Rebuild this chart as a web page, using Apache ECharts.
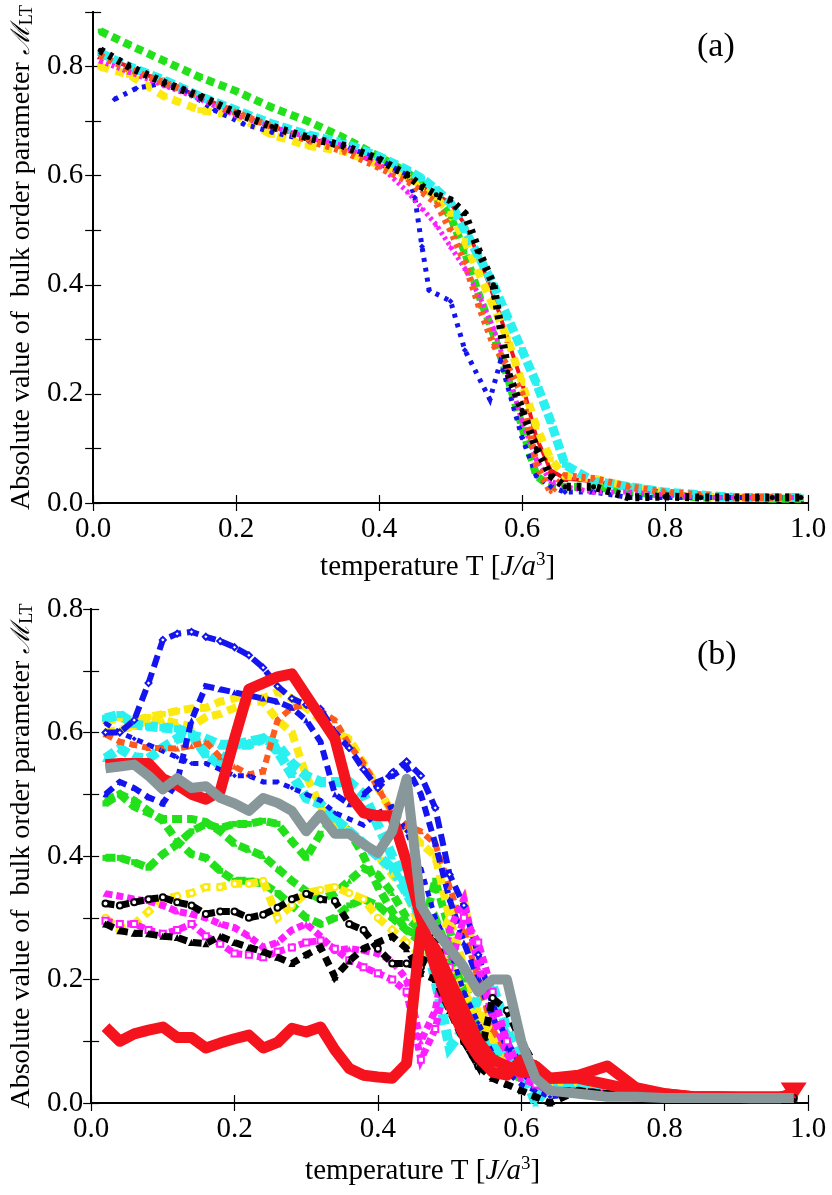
<!DOCTYPE html>
<html><head><meta charset="utf-8">
<script src="https://cdn.jsdelivr.net/npm/echarts@6.0.0/dist/echarts.min.js"></script>
<style>html,body{margin:0;padding:0;background:#fff}#c{width:832px;height:1195px}</style>
</head><body><div id="c"></div>
<script>
const FONT = "'Liberation Serif','Times New Roman',serif";

// ---------- Panel (a) ----------
const tA = [0.01,0.05,0.10,0.15,0.20,0.25,0.30,0.35,0.40,0.44,0.46,0.48,0.50,0.52,0.54,0.56,0.58,0.60,0.62,0.64,0.66,0.70,0.75,0.80,0.85,0.90,0.95,0.99];
const aRed     = [.82,.80,.77,.745,.715,.69,.67,.65,.62,.60,.58,.565,.55,.51,.45,.38,.30,.22,.12,.06,.045,.04,.03,.02,.012,.01,.01,.008];
const aGreen   = [.865,.84,.81,.78,.755,.725,.70,.67,.635,.605,.585,.56,.525,.46,.38,.31,.23,.14,.05,.03,.03,.03,.02,.015,.01,.01,.008,.008];
const aCyan    = [.825,.80,.775,.745,.72,.695,.675,.66,.635,.61,.595,.575,.55,.50,.45,.40,.34,.28,.22,.15,.07,.04,.03,.02,.015,.01,.01,.01];
const aYellow  = [.80,.785,.745,.72,.71,.675,.655,.645,.62,.60,.58,.56,.53,.48,.42,.36,.30,.22,.14,.08,.05,.045,.03,.02,.012,.01,.01,.01];
const aMagenta = [.81,.79,.765,.74,.71,.69,.67,.655,.62,.57,.54,.51,.47,.43,.38,.32,.24,.15,.08,.04,.03,.02,.02,.015,.01,.01,.01,.01];
const aOrange  = [.82,.795,.77,.745,.715,.69,.665,.645,.615,.59,.57,.55,.50,.44,.36,.29,.25,.20,.07,.02,.05,.045,.03,.02,.015,.01,.01,.01];
const aBlack   = [.83,.80,.77,.745,.715,.69,.67,.655,.63,.60,.58,.565,.555,.53,.46,.40,.24,.17,.10,.05,.03,.03,.01,.012,.01,.01,.01,.01];
const tABlue = [0.03,0.06,0.10,0.13,0.17,0.21,0.25,0.30,0.35,0.40,0.44,0.45,0.46,0.47,0.50,0.52,0.555,0.57,0.60,0.62,0.64,0.66,0.70,0.75,0.80,0.85,0.90,0.95,0.99];
const aBlue  = [.74,.76,.77,.755,.72,.695,.68,.665,.655,.63,.60,.56,.47,.39,.37,.28,.19,.26,.12,.05,.03,.02,.02,.01,.01,.01,.01,.01,.01];

// ---------- Panel (b) ----------
const tB = [0.02,0.04,0.06,0.08,0.10,0.12,0.14,0.16,0.18,0.20,0.22,0.24,0.26,0.28,0.30,0.32,0.34,0.36,0.38,0.40,0.42,0.44,0.46,0.48,0.50,0.52,0.54,0.56,0.58,0.60,0.62,0.64,0.68,0.72,0.76,0.80,0.84,0.88,0.92,0.96,0.98];
const bRedU    = [.548,.55,.55,.55,.525,.515,.50,.492,.505,.59,.67,.68,.69,.695,.66,.625,.59,.50,.47,.465,.465,.39,.30,.22,.16,.11,.075,.05,.045,.07,.06,.04,.045,.06,.025,.015,.01,.01,.008,.008,.017];
const bRedL    = [.123,.10,.112,.118,.123,.106,.106,.089,.097,.104,.11,.089,.098,.121,.115,.123,.086,.056,.045,.042,.04,.064,.28,.25,.20,.15,.10,.07,.06,.05,.05,.04,.04,.03,.02,.015,.01,.01,.01,.01,.012];
const bGray    = [.542,.545,.548,.53,.508,.526,.51,.513,.494,.485,.473,.494,.486,.473,.44,.467,.436,.436,.419,.405,.44,.525,.32,.28,.25,.22,.18,.20,.20,.10,.04,.02,.015,.01,.01,.008,.008,.008,.008,.008,.008];
const bBlueArc = [.60,.60,.62,.68,.75,.76,.763,.755,.748,.738,.725,.705,.675,.655,.645,.638,.60,.575,.54,.51,.535,.553,.53,.478,.37,.32,.24,.16,.10,.06,.03,.02,.015,.012,.01,.01,.008,.008,.008,.008,.008];
const bBlueB   = [.50,.52,.51,.495,.485,.52,.62,.675,.67,.665,.66,.655,.65,.64,.62,.585,.50,.484,.50,.52,.53,.545,.50,.42,.33,.26,.20,.14,.09,.05,.03,.02,.015,.012,.01,.01,.008,.008,.008,.008,.008];
const bBlueC   = [.615,.60,.59,.58,.57,.56,.55,.55,.54,.53,.53,.52,.52,.51,.50,.49,.47,.46,.45,.47,.48,.44,.38,.30,.25,.18,.13,.08,.05,.03,.02,.01,.015,.01,.01,.008,.008,.008,.008,.008,.008];
const bOrange  = [.597,.585,.58,.575,.575,.574,.578,.585,.56,.545,.532,.537,.62,.64,.645,.635,.62,.58,.55,.51,.47,.45,.44,.42,.35,.28,.20,.12,.08,.05,.03,.02,.02,.015,.012,.01,.01,.01,.008,.008,.008];
const bCyanA   = [.623,.629,.613,.61,.608,.606,.597,.564,.548,.58,.58,.59,.57,.532,.494,.484,.46,.44,.42,.40,.38,.34,.30,.25,.18,.12,.10,.09,.08,.05,.03,.02,.02,.015,.01,.01,.008,.008,.008,.008,.008];
const bCyanB   = [.558,.574,.56,.558,.575,.59,.595,.59,.58,.58,.585,.59,.58,.55,.53,.52,.52,.52,.50,.45,.40,.35,.30,.20,.09,.12,.17,.19,.12,.06,.00,.03,.03,.02,.015,.01,.01,.008,.008,.008,.008];
const bYellowA = [.618,.623,.62,.625,.63,.635,.639,.64,.65,.655,.666,.655,.666,.655,.64,.62,.60,.59,.55,.51,.47,.445,.42,.40,.30,.22,.15,.10,.07,.05,.04,.03,.025,.02,.015,.012,.01,.01,.01,.008,.008];
const bYellowB = [.60,.605,.61,.62,.62,.615,.61,.625,.63,.64,.65,.65,.62,.60,.53,.48,.45,.44,.42,.40,.37,.34,.28,.25,.22,.18,.14,.10,.07,.05,.03,.02,.02,.015,.012,.01,.01,.008,.008,.008,.008];
const bYellowC = [.30,.28,.29,.31,.33,.335,.34,.35,.35,.355,.355,.36,.30,.32,.34,.345,.35,.34,.33,.30,.28,.26,.24,.25,.30,.33,.20,.12,.08,.05,.03,.02,.02,.015,.012,.01,.01,.01,.008,.008,.008];
const bGreenA  = [.485,.50,.49,.473,.457,.424,.403,.397,.376,.36,.36,.355,.34,.32,.30,.29,.30,.32,.33,.32,.30,.28,.26,.24,.22,.18,.12,.08,.05,.04,.03,.02,.02,.015,.01,.01,.01,.008,.008,.008,.008];
const bGreenB  = [.397,.397,.39,.381,.403,.419,.44,.452,.445,.452,.452,.457,.452,.424,.397,.436,.462,.44,.40,.35,.31,.28,.27,.36,.28,.20,.12,.08,.06,.04,.03,.02,.02,.015,.01,.01,.01,.008,.008,.008,.008];
const bGreenC  = [.49,.50,.48,.47,.46,.46,.46,.455,.44,.42,.41,.40,.38,.36,.343,.33,.34,.36,.38,.37,.34,.30,.28,.30,.24,.18,.12,.08,.05,.04,.03,.02,.02,.015,.01,.01,.008,.008,.008,.008,.008];
const bMagA    = [.339,.335,.33,.327,.32,.31,.306,.30,.29,.284,.27,.252,.26,.28,.29,.27,.247,.25,.247,.242,.23,.20,.10,.15,.28,.33,.22,.14,.08,.04,.03,.02,.02,.015,.01,.01,.008,.008,.008,.008,.008];
const bMagB    = [.295,.29,.29,.28,.274,.28,.29,.27,.258,.242,.24,.236,.245,.252,.26,.263,.25,.231,.22,.21,.20,.18,.07,.12,.22,.30,.26,.18,.10,.05,.03,.02,.015,.012,.01,.01,.008,.008,.008,.008,.008];
const bBlackA  = [.323,.32,.325,.33,.333,.325,.32,.306,.31,.31,.30,.305,.316,.33,.339,.33,.327,.29,.28,.25,.226,.226,.22,.27,.19,.10,.06,.17,.15,.10,.06,.02,.02,.015,.012,.01,.01,.008,.008,.008,.008];
const bBlackB  = [.29,.279,.275,.274,.27,.268,.26,.258,.27,.26,.252,.245,.236,.226,.24,.252,.204,.23,.25,.26,.27,.25,.21,.20,.15,.10,.06,.04,.03,.02,.01,.00,.02,.015,.01,.01,.01,.008,.008,.008,.008];

const xTickLabels = ['0.0','0.2','0.4','0.6','0.8','1.0'];

const C = {blue:'#1414f0', green:'#22e01a', red:'#f5141e', cyan:'#2af0f0', magenta:'#ff1eff',
           yellow:'#fbe910', black:'#000000', orange:'#ff5a1e', gray:'#889799'};

function mk(T, V, color, width, dash, symbol, symSize, panel, z) {
  return {
    type:'line', xAxisIndex: panel*2, yAxisIndex: panel*2,
    data: T.map((t,i)=>[t, V[i]]),
    lineStyle:{color:color, width:width, type: dash || 'solid', cap:'butt', join: dash ? 'miter' : 'round'},
    itemStyle:{color:color},
    symbol: symbol || 'none', symbolSize: symSize || 6, showSymbol: !!symbol,
    silent:true, animation:false, z: z || 2
  };
}

const series = [
  // panel a
  mk(tA, aRed, C.red, 4, null, 'triangle', 7, 0, 2),
  mk(tA, aGreen, C.green, 8, [8,5], 'rect', 5, 0, 3),
  mk(tA, aYellow, C.yellow, 8, [9,7], 'rect', 6, 0, 3),
  mk(tA, aCyan, C.cyan, 9, [10,4], 'rect', 6, 0, 3),
  mk(tABlue, aBlue, C.blue, 5, [4,6], 'diamond', 6, 0, 4),
  mk(tA, aMagenta, C.magenta, 5, [3,3], 'triangle', 5, 0, 4),
  mk(tA, aOrange, C.orange, 7, [4,5], 'diamond', 5, 0, 4),
  mk(tA, aBlack, C.black, 8, [4,6], 'circle', 5, 0, 5),
  // panel b
  mk(tB, bGreenA, C.green, 8, [10,5], 'rect', 6, 1, 2),
  mk(tB, bGreenB, C.green, 8, [10,5], 'rect', 6, 1, 2),
  mk(tB, bGreenC, C.green, 8, [10,5], 'triangle', 6, 1, 2),
  mk(tB, bYellowA, C.yellow, 8, [10,6], 'rect', 6, 1, 3),
  mk(tB, bYellowB, C.yellow, 8, [10,6], 'triangle', 6, 1, 3),
  mk(tB, bYellowC, C.yellow, 8, [10,6], 'emptyCircle', 6, 1, 3),
  mk(tB, bCyanA, C.cyan, 10, [11,4], 'rect', 7, 1, 3),
  mk(tB, bCyanB, C.cyan, 10, [11,5], 'triangle', 7, 1, 3),
  mk(tB, bOrange, C.orange, 6, [8,5], 'triangle', 6, 1, 4),
  mk(tB, bBlueC, C.blue, 5, [6,6], 'diamond', 5, 1, 4),
  mk(tB, bBlueArc, C.blue, 6, [12,6], 'emptyDiamond', 6, 1, 4),
  mk(tB, bBlueB, C.blue, 6, [10,6], 'triangle', 6, 1, 4),
  mk(tB, bMagA, C.magenta, 7, [7,4], 'triangle', 6, 1, 4),
  mk(tB, bMagB, C.magenta, 7, [7,4], 'emptyRect', 6, 1, 4),
  mk(tB, bBlackA, C.black, 7, [9,6], 'emptyCircle', 6, 1, 5),
  mk(tB, bBlackB, C.black, 7, [9,6], 'triangle', 7, 1, 5),
  mk(tB, bRedL, C.red, 11, null, null, 0, 1, 6),
  mk(tB, bRedU, C.red, 11, null, null, 0, 1, 6),
  mk(tB, bGray, C.gray, 10, null, null, 0, 1, 7)
];
// end marker of red curve in (b)
series[25].markPoint = {symbol:'triangle', symbolRotate:180, symbolSize:[26,20], silent:true,
  itemStyle:{color:C.red}, label:{show:false}, data:[{coord:[tB[40], bRedU[40]]}]};

const axLine = {show:true, lineStyle:{color:'#000', width:2}};
const tick = {show:true, inside:true, length:8, lineStyle:{color:'#000', width:1.2}};
const lbl = {fontFamily:FONT, fontSize:29, color:'#000'};

function xAxes(grid, gap, padRight) {
  return [
    {type:'value', gridIndex:grid, min:0, max:1, interval:0.2, position:'bottom',
     axisLine:axLine, axisTick:tick, splitLine:{show:false},
     axisLabel:Object.assign({margin:12, formatter:(v)=>xTickLabels[Math.round(v*5)]}, lbl),
     name:'{t|temperature T [}{i|J/a}{s|3}{t|]}', nameLocation:'middle', nameGap:gap,
     nameTextStyle:{padding:[0,padRight,0,0], rich:{
       t:{fontFamily:FONT, fontSize:29, color:'#000'},
       i:{fontFamily:FONT, fontSize:29, fontStyle:'italic', color:'#000'},
       s:{fontFamily:FONT, fontSize:19, color:'#000', verticalAlign:'top', padding:[0,0,14,0]}}}},
    {type:'value', gridIndex:grid, min:0, max:1, interval:0.2, position:'top',
     axisLine:axLine, axisTick:tick, axisLabel:{show:false}, splitLine:{show:false}}
  ];
}
function yAxes(grid, max, gap, lblMargin) {
  return [
    {type:'value', gridIndex:grid, min:0, max:max, interval:0.1, position:'left',
     axisLine:axLine, axisTick:tick, splitLine:{show:false},
     axisLabel:Object.assign({margin:lblMargin, formatter:(v)=>{const k=Math.round(v*10); return k%2===0 ? (k/10).toFixed(1) : '';}}, lbl),
     name:'{t|Absolute value of  bulk order parameter }{m|ℳ}{s|LT}', nameLocation:'middle', nameRotate:90, nameGap:gap,
     nameTextStyle:{rich:{
       t:{fontFamily:FONT, fontSize:28, color:'#000'},
       m:{fontFamily:"'DejaVu Serif',serif", fontSize:26, fontStyle:'italic', color:'#000'},
       s:{fontFamily:FONT, fontSize:18, color:'#000', verticalAlign:'bottom', padding:[10,0,0,0]}}}},
    {type:'value', gridIndex:grid, min:0, max:max, interval:0.1, position:'right',
     axisLine:axLine, axisTick:tick, axisLabel:{show:false}, splitLine:{show:false}}
  ];
}

const chart = echarts.init(document.getElementById('c'), null, {renderer:'canvas'});
chart.setOption({
  backgroundColor:'#fff',
  animation:false,
  grid:[
    {left:92, right:24, top:12, height:491},
    {left:87, right:24, top:609, height:494}
  ],
  xAxis:[...xAxes(0, 48, 26), ...xAxes(1, 52, 54)],
  yAxis:[...yAxes(0, 0.9, 56, 10), ...yAxes(1, 0.8, 52, 8)],
  graphic:[
    {type:'text', left:697, top:30, style:{text:'(a)', font:"34px 'Liberation Serif'", fill:'#000'}},
    {type:'text', left:697, top:638, style:{text:'(b)', font:"34px 'Liberation Serif'", fill:'#000'}}
  ],
  series: series
});
</script></body></html>
